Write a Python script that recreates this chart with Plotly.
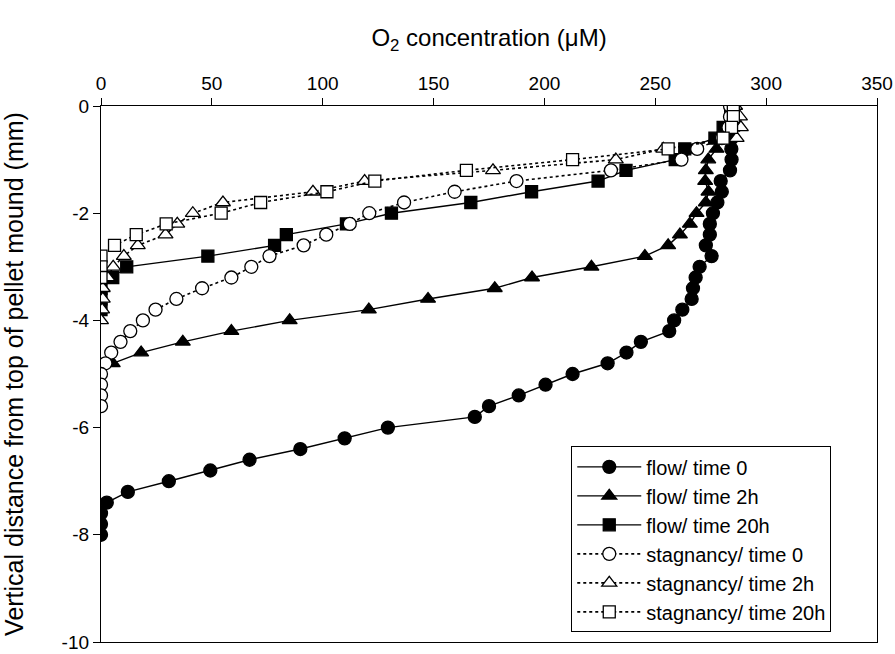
import plotly.graph_objects as go

# Depth below the top of the pellet mound (mm), one profile step = 0.2 mm
depth_mm = [0, -0.2, -0.4, -0.6, -0.8, -1.0, -1.2, -1.4, -1.6, -1.8,
            -2.0, -2.2, -2.4, -2.6, -2.8, -3.0, -3.2, -3.4, -3.6, -3.8,
            -4.0, -4.2, -4.4, -4.6, -4.8, -5.0, -5.2, -5.4, -5.6, -5.8,
            -6.0, -6.2, -6.4, -6.6, -6.8, -7.0, -7.2, -7.4, -7.6, -7.8, -8.0]

# O2 concentration (uM) at each depth, starting at the mound surface
flow_t0 = [285, 285, 285, 284.5, 284.3, 284.4, 283.7, 279.5, 280, 278,
           276, 274.6, 274.6, 272.8, 275.4, 270, 268.2, 267, 266.4, 262.2,
           258.5, 256.3, 243.5, 237, 228.5, 212.7, 200.5, 188.4, 175, 168.6,
           129.4, 109.9, 89.9, 67, 49.3, 30.6, 12.1, 2.6, 0, 0, 0]
flow_t2 = [285, 285.5, 284, 281, 277.6, 273.9, 272.8, 272.5, 274, 272.8,
           268.6, 265.6, 261.1, 255.8, 245.3, 221.2, 194.4, 177.6, 147.5, 120.8,
           85.1, 58.8, 36.9, 18.1, 5.3]
flow_t20 = [285, 284, 280.6, 276.9, 263.3, 259, 236.8, 224.2, 194.2, 166.8,
            131, 110.7, 83.6, 78.3, 48.2, 11.6, 5.3, 0, 0, 0]
stag_t0 = [283.7, 283.7, 283, 280, 268.9, 261.8, 230, 187.4, 159.5, 136.7,
           121, 112.2, 101.6, 91.4, 76, 67.8, 58.8, 45.6, 34, 24.6,
           18.9, 13.2, 8.8, 4.6, 2.0, 0, 0, 0, 0]
stag_t2 = [286, 288.2, 288.6, 286.7, 253.6, 232.2, 176.8, 118.9, 95.6, 55,
           41.4, 34.4, 29.1, 16.6, 10.3, 5.5, 3, 0.8, 0.8, 0.5, 0]
stag_t20 = [285.2, 285.2, 284.4, 280.6, 255.8, 212.7, 164.8, 123.5, 101.9, 72,
            54.2, 29.4, 15.9, 6.1, 0, 0, 0]

series_names = ["flow/ time 0", "flow/ time 2h", "flow/ time 20h",
                "stagnancy/ time 0", "stagnancy/ time 2h", "stagnancy/ time 20h"]
series_values = [flow_t0, flow_t2, flow_t20, stag_t0, stag_t2, stag_t20]

x_ticks = [0, 50, 100, 150, 200, 250, 300, 350]
y_ticks = [0, -2, -4, -6, -8, -10]
y_tick_labels = ["0", "-2", "-4", "-6", "-8", "-10"]

FONT = "Liberation Sans, Arial, sans-serif"
symbols = ["circle", "triangle-up", "square", "circle", "triangle-up", "square"]
sizes = [13, 13, 12, 13, 13, 12]
filled = [True, True, True, False, False, False]

fig = go.Figure()
for name, vals, sym, size, fill in zip(series_names, series_values, symbols, sizes, filled):
    fig.add_trace(go.Scatter(
        x=vals,
        y=depth_mm[:len(vals)],
        name=name,
        mode="lines+markers",
        line=dict(color="black", width=1.4 if fill else 1.6,
                  dash="solid" if fill else "dot"),
        marker=dict(symbol=sym, size=size,
                    color="black" if fill else "white",
                    line=dict(color="black", width=1.3)),
    ))

axis_font = dict(family=FONT, size=19, color="black")
title_font = dict(family=FONT, size=24, color="black")

fig.update_layout(
    width=895, height=654,
    margin=dict(l=101, r=18, t=106, b=12),
    paper_bgcolor="white", plot_bgcolor="white",
    font=dict(family=FONT, color="black"),
    xaxis=dict(
        side="top", range=[0, 350], tickvals=x_ticks, automargin=False,
        ticks="outside", ticklen=7, tickwidth=1.3, tickcolor="black",
        showline=True, linecolor="black", linewidth=1.3, mirror=True,
        showgrid=False, zeroline=False, tickfont=axis_font,
        title=dict(text="O<sub>2</sub> concentration (μM)",
                   font=title_font, standoff=19),
    ),
    xaxis2=dict(
        overlaying="x", side="top", range=[0, 350], tickvals=x_ticks,
        automargin=False,
        ticks="inside", ticklen=7, tickwidth=1.3, tickcolor="black",
        showticklabels=False, showline=False, showgrid=False, zeroline=False,
    ),
    yaxis=dict(
        range=[-10, 0], tickvals=y_ticks, ticktext=y_tick_labels,
        automargin=False,
        ticks="outside", ticklen=7, tickwidth=1.3, tickcolor="black",
        showline=True, linecolor="black", linewidth=1.3, mirror=True,
        showgrid=False, zeroline=False, tickfont=axis_font,
        ticklabeloverflow="allow",
        title=dict(text="Vertical distance from top of pellet mound (mm)",
                   font=dict(family=FONT, size=25, color="black"), standoff=36),
    ),
    legend=dict(
        x=0.606, y=0.365, xanchor="left", yanchor="top",
        bgcolor="white", bordercolor="black", borderwidth=1,
        font=dict(family=FONT, size=20, color="black"),
        itemwidth=64, tracegroupgap=0,
    ),
    showlegend=True,
)

fig.write_html("out.html")
